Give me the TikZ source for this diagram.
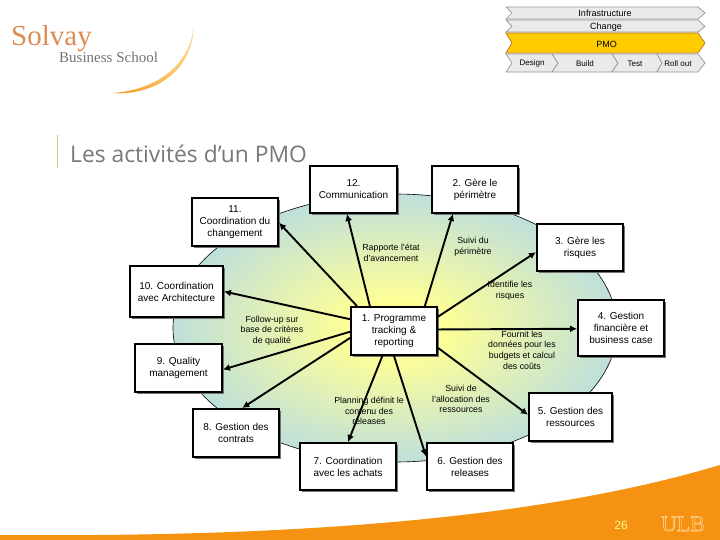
\documentclass[tikz,border=0pt]{standalone}
\usepackage{fontspec}
\setmainfont{Liberation Sans}
\newfontfamily\serifl{Liberation Serif}
\newfontfamily\titlef{Open Sans}
\usetikzlibrary{shadows,arrows.meta}
\definecolor{blueedge}{RGB}{184,220,226}
\definecolor{yelcore}{RGB}{255,255,150}
\definecolor{band}{RGB}{246,146,18}
\definecolor{chev}{RGB}{234,234,234}
\definecolor{chevline}{RGB}{150,150,150}
\definecolor{pmogold}{RGB}{255,204,0}
\definecolor{pmoline}{RGB}{190,120,50}
\definecolor{logoor}{RGB}{222,140,85}
\definecolor{titlegray}{RGB}{120,120,120}
\definecolor{titlebar}{RGB}{222,195,125}
\definecolor{crescenttip}{RGB}{250,215,140}
\pgfdeclareradialshading{pmoglow}{\pgfpointorigin}{color(0bp)=(yelcore); color(5bp)=(yelcore); color(27bp)=(blueedge); color(50bp)=(blueedge)}
\tikzset{
  actbox/.style={draw=black,line width=2pt,fill=white,minimum width=#1,minimum height=47pt,inner sep=0pt,align=center,font=\fontsize{10}{12}\selectfont,
    drop shadow={shadow xshift=2pt,shadow yshift=-2pt,fill=black!55,opacity=1}},
  actbox/.default=86pt,
  flow/.style={line width=1.9pt,-{Latex[length=7pt,width=7pt]}},
  note/.style={align=center,inner sep=0pt,font=\fontsize{8.8}{10.7}\selectfont},
  chevshape/.style={draw=chevline,fill=chev,line width=.7pt},
  chevtext/.style={inner sep=0pt,font=\fontsize{9}{10}\selectfont},
  chevsmall/.style={inner sep=0pt,font=\fontsize{8}{10}\selectfont}
}
\begin{document}
\begin{tikzpicture}[x=1pt,y=-1pt]
\useasboundingbox (0,0) rectangle (720,540);
\fill[white] (0,0) rectangle (720,540);
% bottom band
\fill[band] (0,535) .. controls (250,537) and (520,525) .. (720,465) -- (720,540) -- (0,540) -- cycle;
% logo
\node[inner sep=0pt,anchor=base west,text=logoor,font=\serifl\fontsize{29}{30}\selectfont] (logoa) at (11,46) {Solvay};
\node[inner sep=0pt,anchor=base west,text=black!55,font=\serifl\fontsize{15}{16}\selectfont] (logob) at (59,62.5) {Business School};
\shade[left color=band,right color=crescenttip,shading angle=90] (112,93) .. controls (150,96) and (192,75) .. (194,26) .. controls (189,70) and (150,91) .. (112,93) -- cycle;
% title
\fill[titlebar] (56.6,135) rectangle (58,168);
\node[inner sep=0pt,anchor=base west,text=titlegray,font=\titlef\fontsize{22.8}{26}\selectfont] (ttl) at (70,162.5) {Les activités d’un PMO};
% chevrons
\draw[chevshape] (506,7) -- (698,7) -- (705,13) -- (698,19) -- (506,19) -- (512,13) -- cycle;
\node[chevtext] (cinf) at (605,13.5) {Infrastructure};
\draw[chevshape] (506,20) -- (698,20) -- (705,26.5) -- (698,32) -- (506,32) -- (512,26.5) -- cycle;
\node[chevtext] (cchg) at (606,27) {Change};
\draw[draw=pmoline,fill=pmogold,line width=.8pt] (506,33) -- (698,33) -- (705,43) -- (698,53) -- (506,53) -- (512,43) -- cycle;
\node[chevtext] (cpmo) at (606.5,44) {PMO};
\draw[chevshape] (506,54) -- (552,54) -- (558,63) -- (552,72) -- (506,72) -- (512,63) -- cycle;
\draw[chevshape] (552,54) -- (612,54) -- (618,63) -- (612,72) -- (552,72) -- (558,63) -- cycle;
\draw[chevshape] (612,54) -- (657,54) -- (662,63) -- (657,72) -- (612,72) -- (618,63) -- cycle;
\draw[chevshape] (657,54) -- (698,54) -- (705,63) -- (698,72) -- (657,72) -- (662,63) -- cycle;
\node[chevsmall] (cd) at (532,63.5) {Design};
\node[chevsmall] (cb) at (585,63.5) {Build};
\node[chevsmall] (ct) at (635,63.5) {Test};
\node[chevsmall] (cr) at (678,63.5) {Roll out};
% ellipse
\path[shading=pmoglow] (395,328) ellipse [x radius=222,y radius=134];
\draw[black,line width=.6pt] (395,328) ellipse [x radius=222,y radius=134];
% boxes
\node[actbox=87pt] (n12) at (353.5,189.5) {12.\\Communication};
\node[actbox] (n11) at (235,222) {11.\\Coordination du\\changement};
\node[actbox=93pt,minimum height=51pt] (n10) at (176.5,291.5) {10. Coordination\\avec Architecture};
\node[actbox,minimum height=48pt] (n1) at (394,331) {1. Programme\\tracking \&\\reporting};
\node[actbox] (n2) at (475,189.5) {2. Gère le\\périmètre};
\node[actbox] (n3) at (580,247.5) {3. Gère les\\risques};
\node[actbox,minimum height=56pt] (n4) at (621,328) {4. Gestion\\financière et\\business case};
\node[actbox=83pt,minimum height=48pt] (n5) at (570.5,417) {5. Gestion des\\ressources};
\node[actbox] (n6) at (470,466.5) {6. Gestion des\\releases};
\node[actbox=96pt] (n7) at (348,466.5) {7. Coordination\\avec les achats};
\node[actbox,minimum height=48pt] (n8) at (236,433) {8. Gestion des\\contrats};
\node[actbox=87pt,minimum height=48pt] (n9) at (178.5,368) {9. Quality\\management};
% connectors
\draw[flow] (n1.134) -- (n12.-105.5);
\draw[flow] (n1.146.3) -- (n11.-1.3);
\draw[flow] (n1.165.6) -- (n10.-0.6);
\draw[flow] (n1.181.3) -- (n9.-2.6);
\draw[flow] (n1.189) -- (n8.76);
\draw[flow] (n1.245.4) -- (n7.90);
\draw[flow] (n1.270) -- (n6.167.5);
\draw[flow] (n1.-21.6) -- (n5.177);
\draw[flow] (n1.2.7) -- (n4.181);
\draw[flow] (n1.18) -- (n3.186);
\draw[flow] (n1.39.6) -- (n2.228.2);
% notes
\node[note] (l1) at (391,253) {Rapporte l'état\\d'avancement};
\node[note] (l2) at (473,247) {Suivi du\\périmètre};
\node[note] (l3) at (510,291) {Identifie les\\risques};
\node[note] (l4) at (272,330.5) {Follow-up sur\\base de critères\\de qualité};
\node[note] (l5) at (522,350) {Fournit les\\données pour les\\budgets et calcul\\des coûts};
\node[note] (l6) at (369,411) {Planning définit le\\contenu des\\releases};
\node[note] (l7) at (461,399) {Suivi de\\l'allocation des\\ressources};
% footer
\node[inner sep=0pt,text=yellow!45,font=\fontsize{12}{14}\selectfont] (pg) at (621,525) {26};
\node[inner sep=0pt,font=\serifl\fontsize{22}{22}\selectfont] (ulb) at (683,524) {\special{pdf:code q 1 Tr 0.4 w 1 0.93 0.75 RG}ULB\special{pdf:code Q}};
\end{tikzpicture}
\end{document}
